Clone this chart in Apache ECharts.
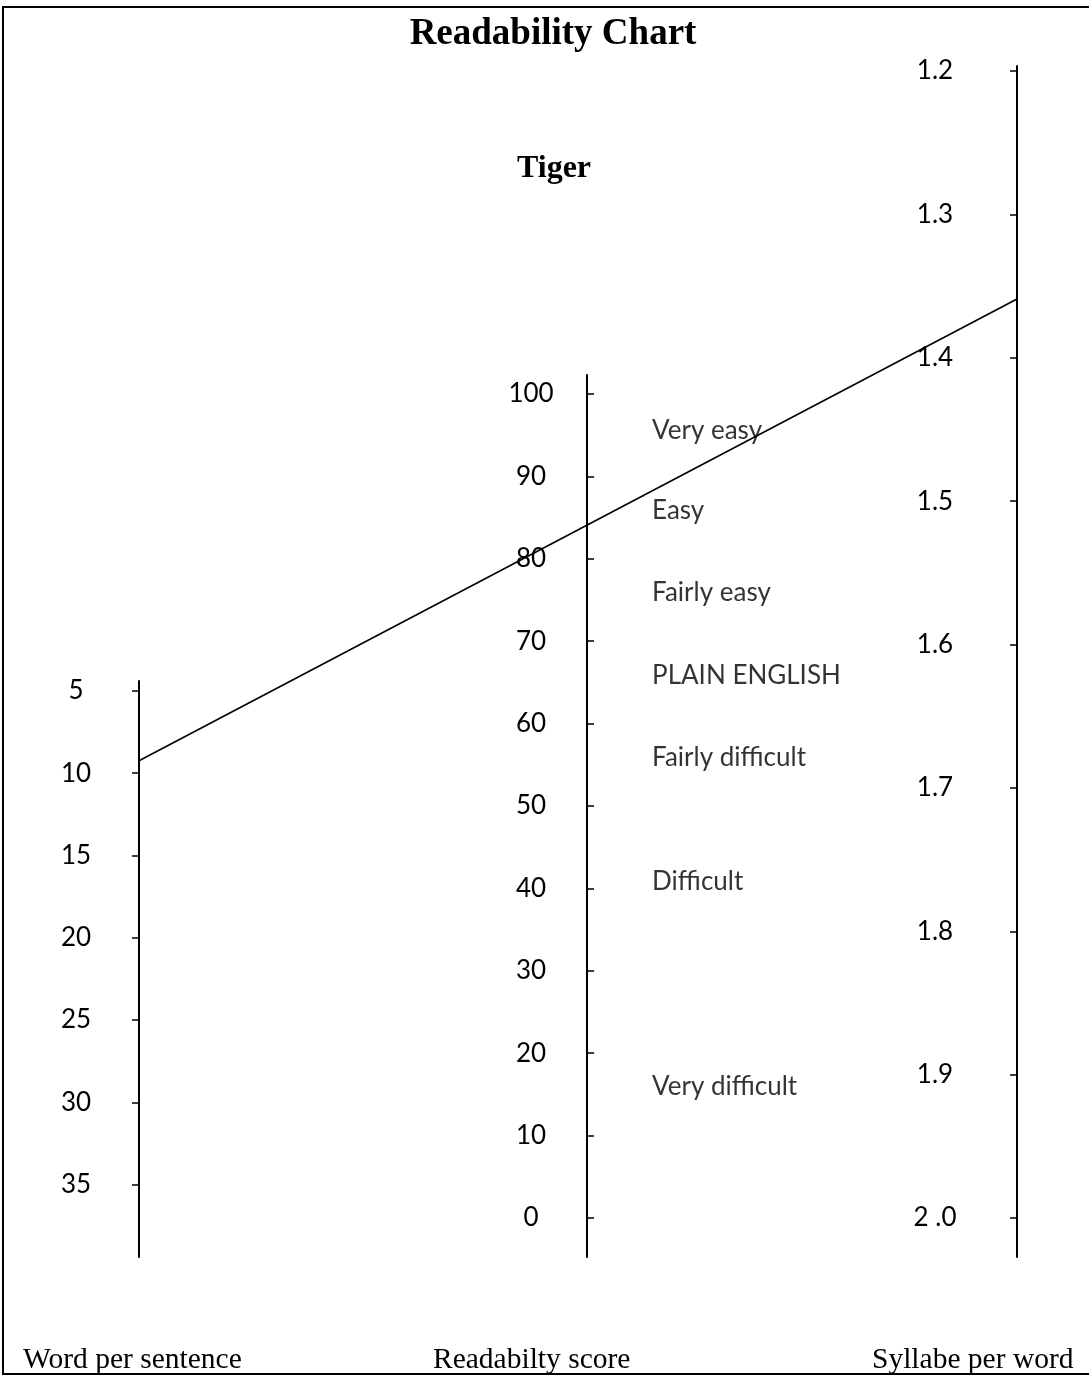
<!DOCTYPE html>
<html>
<head>
<meta charset="utf-8">
<script src="https://cdn.jsdelivr.net/npm/echarts@6/dist/echarts.min.js"></script>
<style>
html,body{margin:0;padding:0;background:#fff;}
#chart{width:1089px;height:1376px;}
</style>
</head>
<body>
<div id="chart"></div>
<script>
// ---- data ----
var chartTitle = 'Readability Chart';
var subjectName = 'Tiger';
var wordTicks = [5, 10, 15, 20, 25, 30, 35];
var wordTickLabels = ['5', '10', '15', '20', '25', '30', '35'];
var scoreTicks = [100, 90, 80, 70, 60, 50, 40, 30, 20, 10, 0];
var scoreTickLabels = ['100', '90', '80', '70', '60', '50', '40', '30', '20', '10', '0'];
var syllTicks = [1.2, 1.3, 1.4, 1.5, 1.6, 1.7, 1.8, 1.9, 2.0];
var syllTickLabels = ['1.2', '1.3', '1.4', '1.5', '1.6', '1.7', '1.8', '1.9', '2 .0'];
var bandNames = ['Very easy', 'Easy', 'Fairly easy', 'PLAIN ENGLISH', 'Fairly difficult', 'Difficult', 'Very difficult'];
var bandScores = [95.6, 85.8, 75.9, 65.8, 55.9, 40.8, 15.9];
var axisNames = ['Word per sentence', 'Readabilty score', 'Syllabe per word'];
var tigerWordsPerSentence = 9.25;
var tigerSyllablesPerWord = 1.359;

// ---- chart ----
var chart = echarts.init(document.getElementById('chart'), null, {renderer: 'canvas'});
var sansFont = 'Lato';
var serifFont = '"Liberation Serif", "Times New Roman", serif';

function labelFor(ticks, labels) {
  return function (v) {
    for (var i = 0; i < ticks.length; i++) {
      if (Math.abs(ticks[i] - v) < 1e-6) return labels[i];
    }
    return '';
  };
}

var axisLineStyle = {show: true, lineStyle: {color: '#000', width: 2}};

var option = {
  animation: false,
  backgroundColor: '#fff',
  grid: [
    {left: 139, top: 681, width: 10, height: 576},
    {left: 587, top: 375, width: 10, height: 882},
    {left: 1017, top: 66, width: 10, height: 1191}
  ],
  xAxis: [0, 1, 2].map(function (i) {
    return {gridIndex: i, type: 'value', min: 0, max: 1, show: false};
  }),
  yAxis: [
    {
      gridIndex: 0, type: 'value', position: 'left', inverse: true,
      min: 4.4, max: 39.4,
      axisLine: axisLineStyle,
      axisTick: {show: true, customValues: wordTicks, length: 7, inside: false, lineStyle: {color: '#000', width: 1.5}},
      axisLabel: {show: true, customValues: wordTicks, formatter: labelFor(wordTicks, wordTickLabels),
        align: 'center', margin: 63, color: '#000', fontFamily: sansFont, fontSize: 26},
      splitLine: {show: false}
    },
    {
      gridIndex: 1, type: 'value', position: 'left',
      min: -4.73, max: 102.31,
      axisLine: axisLineStyle,
      axisTick: {show: true, customValues: scoreTicks, length: 7, inside: true, lineStyle: {color: '#000', width: 1.5}},
      axisLabel: {show: true, customValues: scoreTicks, formatter: labelFor(scoreTicks, scoreTickLabels),
        align: 'center', margin: 56, color: '#000', fontFamily: sansFont, fontSize: 26},
      splitLine: {show: false}
    },
    {
      gridIndex: 2, type: 'value', position: 'left', inverse: true,
      min: 1.1965, max: 2.0272,
      axisLine: axisLineStyle,
      axisTick: {show: true, customValues: syllTicks, length: 7, inside: false, lineStyle: {color: '#000', width: 1.5}},
      axisLabel: {show: true, customValues: syllTicks, formatter: labelFor(syllTicks, syllTickLabels),
        align: 'center', margin: 82, color: '#000', fontFamily: sansFont, fontSize: 26},
      splitLine: {show: false}
    }
  ],
  series: [
    {
      type: 'scatter', xAxisIndex: 1, yAxisIndex: 1, silent: true,
      symbolSize: 0.1, itemStyle: {color: 'rgba(0,0,0,0)'},
      data: bandNames.map(function (n, i) { return {name: n, value: [0, bandScores[i]]}; }),
      label: {show: true, position: 'right', distance: 65, formatter: '{b}',
        color: '#000', fontFamily: sansFont, fontSize: 26}
    }
  ],
  graphic: [
    {type: 'rect', silent: true, shape: {x: 3, y: 7, width: 1100, height: 1367},
      style: {fill: 'none', stroke: '#000', lineWidth: 2}},
    {type: 'text', silent: true, style: {text: chartTitle, x: 553, y: 34, textAlign: 'center', textVerticalAlign: 'middle',
      font: 'bold 37px ' + serifFont, fill: '#000'}},
    {type: 'text', silent: true, style: {text: subjectName, x: 554, y: 169, textAlign: 'center', textVerticalAlign: 'middle',
      font: 'bold 32px ' + serifFont, fill: '#000'}},
    {type: 'text', silent: true, style: {text: axisNames[0], x: 23, y: 1360, textAlign: 'left', textVerticalAlign: 'middle',
      font: '29.5px ' + serifFont, fill: '#000'}},
    {type: 'text', silent: true, style: {text: axisNames[1], x: 433, y: 1360, textAlign: 'left', textVerticalAlign: 'middle',
      font: '29.5px ' + serifFont, fill: '#000'}},
    {type: 'text', silent: true, style: {text: axisNames[2], x: 872, y: 1360, textAlign: 'left', textVerticalAlign: 'middle',
      font: '29.5px ' + serifFont, fill: '#000'}}
  ]
};
chart.setOption(option);

// connecting line through the two outer scales
var p1 = chart.convertToPixel({gridIndex: 0}, [0, tigerWordsPerSentence]);
var p2 = chart.convertToPixel({gridIndex: 2}, [0, tigerSyllablesPerWord]);
var g = option.graphic.slice();
g.push({type: 'line', silent: true, shape: {x1: p1[0], y1: p1[1], x2: p2[0], y2: p2[1]},
  style: {stroke: '#000', lineWidth: 1.6}});
chart.setOption({graphic: g});
</script>
</body>
</html>
